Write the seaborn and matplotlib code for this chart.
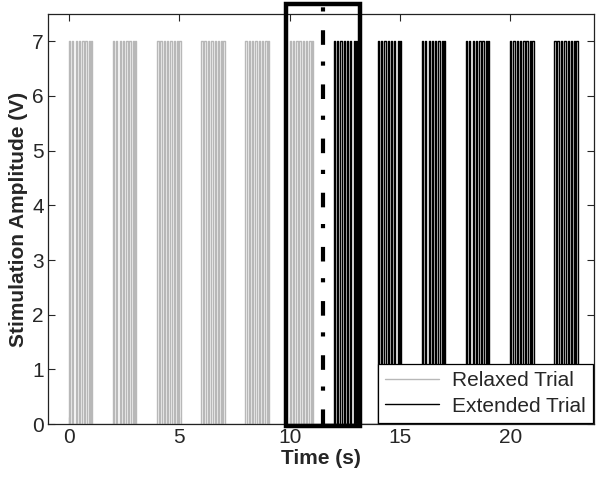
import numpy as np
import pandas as pd
import matplotlib
matplotlib.use('Agg')
import matplotlib.pyplot as plt
import seaborn as sns
from matplotlib.patches import Rectangle

# burst onsets (s) for each trial, pulse layout inside one burst
relaxed_onsets = [0, 2, 4, 6, 8, 10]
extended_onsets = [12, 14, 16, 18, 20, 22]
pulse_offsets = [0.0, 0.14, 0.3, 0.45, 0.6, 0.74, 0.9, 1.0]
pulse_width = 0.06
amplitude = 7.0
switch_time = 11.5
window = (9.85, 13.2)

x_ticks = [0, 5, 10, 15, 20]
y_ticks = [0, 1, 2, 3, 4, 5, 6, 7]


def square_wave(onsets, t0, t1):
    t = [t0]
    v = [0.0]
    for b in onsets:
        for p in pulse_offsets:
            s = b + p
            t += [s, s, s + pulse_width, s + pulse_width]
            v += [0.0, amplitude, amplitude, 0.0]
    t.append(t1)
    v.append(0.0)
    return pd.DataFrame({'time': t, 'amp': v})


relaxed = square_wave(relaxed_onsets, 0, switch_time)
extended = square_wave(extended_onsets, switch_time, 23.5)

sns.set_style('ticks')
plt.rcParams['font.family'] = ['Liberation Sans', 'DejaVu Sans']

fig = plt.figure(figsize=(6, 4.79), dpi=100)
ax = fig.add_axes([0.08, 0.1148, 0.91, 0.856])

sns.lineplot(data=relaxed, x='time', y='amp', sort=False, estimator=None,
             color='#b8b8b8', linewidth=1.0, label='Relaxed Trial', ax=ax)
sns.lineplot(data=extended, x='time', y='amp', sort=False, estimator=None,
             color='black', linewidth=1.0, label='Extended Trial', ax=ax)

# highlighted transition window
ax.add_patch(Rectangle((window[0], -0.03), window[1] - window[0], 7.72,
                       fill=False, edgecolor='black', linewidth=3.2,
                       clip_on=False, zorder=5))
ax.plot([switch_time, switch_time], [0, 7.69], color='black', linewidth=3.0,
        linestyle=(0, (3.5, 4.5, 1, 4)), clip_on=False, zorder=5)

ax.set_xlim(-0.95, 23.8)
ax.set_ylim(0, 7.5)
ax.set_xticks(x_ticks)
ax.set_yticks(y_ticks)
ax.tick_params(direction='in', top=True, right=True, length=5,
               labelsize=15, width=0.8, pad=3)
for sp in ax.spines.values():
    sp.set_visible(True)
    sp.set_linewidth(0.9)
    sp.set_color('#222222')

ax.set_xlabel('Time (s)', fontsize=15, fontweight='bold', labelpad=1)
ax.set_ylabel('Stimulation Amplitude (V)', fontsize=15, fontweight='bold',
              labelpad=3)

leg = ax.legend(loc='lower right', fontsize=15, frameon=True, fancybox=False,
                borderaxespad=0.05, handlelength=2.6, handletextpad=0.6,
                borderpad=0.35, labelspacing=0.3)
leg.get_frame().set_edgecolor('black')
leg.get_frame().set_linewidth(0.9)
leg.get_frame().set_alpha(1)
leg.set_zorder(6)

fig.savefig('out.png', dpi=100)
